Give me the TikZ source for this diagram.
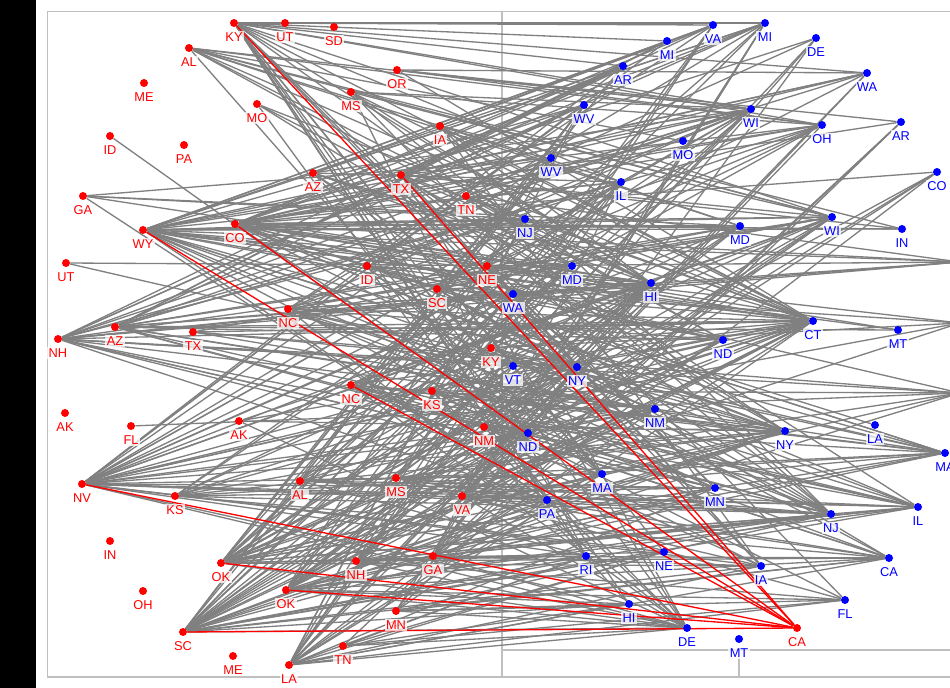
\documentclass[tikz,border=0pt]{standalone}
\usepackage{fontspec}
\setmainfont{Liberation Sans}
\usepackage{tikz}
\pgfdeclarelayer{edges}
\pgfsetlayers{edges,main}

\begin{document}
\begin{tikzpicture}[x=0.02cm, y=-0.02cm,
			dot/.style={circle, inner sep=0pt, minimum size=0.16cm},
			lab/.style={font=\fontsize{7.3}{8}\selectfont, fill=white, fill opacity=0.75, text opacity=1, inner sep=0.8pt},
			rdot/.style={dot, fill=red, label={[lab, text=red]below:#1}},
			bdot/.style={dot, fill=blue, label={[lab, text=blue]below:#1}},
			edge/.style={gray, line width=0.75pt},
			hot/.style={red, line width=0.75pt},
			frame/.style={black!25, line width=0.6pt},
			label distance=2pt
		]
		\useasboundingbox (0,0) rectangle (950,688);

		% left group
		\node[rdot=KY] (rKY) at (234,23) {};
		\node[rdot=UT] (rUT) at (285,23) {};
		\node[rdot=SD] (rSD) at (334,27) {};
		\node[rdot=AL] (rAL) at (189,48) {};
		\node[rdot=ME] (rME) at (144,83) {};
		\node[rdot=OR] (rOR) at (397,70) {};
		\node[rdot=MS] (rMS) at (351,92) {};
		\node[rdot=MO] (rMO) at (257,104) {};
		\node[rdot=IA] (rIA) at (440,126) {};
		\node[rdot=ID] (rID) at (110,136) {};
		\node[rdot=PA] (rPA) at (184,145) {};
		\node[rdot=AZ] (rAZ) at (313,173) {};
		\node[rdot=TX] (rTX) at (401,175) {};
		\node[rdot=TN] (rTN) at (466,196) {};
		\node[rdot=GA] (rGA) at (83,196) {};
		\node[rdot=WY] (rWY) at (143,230) {};
		\node[rdot=CO] (rCO) at (235,224) {};
		\node[rdot=UT] (rUTb) at (66,263) {};
		\node[rdot=ID] (rIDb) at (367,266) {};
		\node[rdot=NE] (rNE) at (487,266) {};
		\node[rdot=SC] (rSC) at (437,289) {};
		\node[rdot=NC] (rNC) at (288,309) {};
		\node[rdot=AZ] (rAZb) at (115,327) {};
		\node[rdot=TX] (rTXb) at (193,332) {};
		\node[rdot=NH] (rNH) at (58,339) {};
		\node[rdot=KY] (rKYb) at (491,348) {};
		\node[rdot=NC] (rNCb) at (351,385) {};
		\node[rdot=KS] (rKS) at (432,391) {};
		\node[rdot=AK] (rAK) at (65,413) {};
		\node[rdot=FL] (rFL) at (131,426) {};
		\node[rdot=AK] (rAKb) at (239,421) {};
		\node[rdot=NM] (rNM) at (484,427) {};
		\node[rdot=NV] (rNV) at (82,484) {};
		\node[rdot=KS] (rKSb) at (175,496) {};
		\node[rdot=AL] (rALb) at (300,481) {};
		\node[rdot=MS] (rMSb) at (396,478) {};
		\node[rdot=VA] (rVA) at (462,496) {};
		\node[rdot=IN] (rIN) at (110,541) {};
		\node[rdot=OK] (rOK) at (221,563) {};
		\node[rdot=NH] (rNHb) at (356,561) {};
		\node[rdot=GA] (rGAb) at (433,556) {};
		\node[rdot=OH] (rOH) at (143,591) {};
		\node[rdot=OK] (rOKb) at (286,590) {};
		\node[rdot=MN] (rMN) at (396,611) {};
		\node[rdot=SC] (rSCb) at (183,632) {};
		\node[rdot=TN] (rTNb) at (343,646) {};
		\node[rdot=ME] (rMEb) at (233,656) {};
		\node[rdot=LA] (rLA) at (289,665) {};
		\node[rdot=CA] (rCA) at (797,628) {};

		% right group
		\node[bdot=VA] (bVA) at (713,25) {};
		\node[bdot=MI] (bMI) at (765,23) {};
		\node[bdot=MI] (bMIb) at (667,41) {};
		\node[bdot=DE] (bDE) at (816,38) {};
		\node[bdot=AR] (bAR) at (623,66) {};
		\node[bdot=WA] (bWA) at (867,73) {};
		\node[bdot=WV] (bWV) at (584,105) {};
		\node[bdot=WI] (bWI) at (751,109) {};
		\node[bdot=OH] (bOH) at (822,125) {};
		\node[bdot=AR] (bARb) at (901,122) {};
		\node[bdot=MO] (bMO) at (683,141) {};
		\node[bdot=WV] (bWVb) at (551,158) {};
		\node[bdot=IL] (bIL) at (621,182) {};
		\node[bdot=CO] (bCO) at (937,172) {};
		\node[bdot=NJ] (bNJ) at (525,219) {};
		\node[bdot=MD] (bMD) at (740,226) {};
		\node[bdot=WI] (bWIb) at (832,217) {};
		\node[bdot=IN] (bIN) at (902,229) {};
		\node[bdot=MD] (bMDb) at (572,266) {};
		\node[bdot=HI] (bHI) at (651,283) {};
		\node[bdot=WA] (bWAb) at (513,294) {};
		\node[bdot=CT] (bCT) at (813,321) {};
		\node[bdot=MT] (bMT) at (898,330) {};
		\node[bdot=ND] (bND) at (723,340) {};
		\node[bdot=VT] (bVT) at (513,366) {};
		\node[bdot=NY] (bNY) at (577,367) {};
		\node[bdot=NM] (bNM) at (655,409) {};
		\node[bdot=NY] (bNYb) at (785,431) {};
		\node[bdot=LA] (bLA) at (875,425) {};
		\node[bdot=MA] (bMA) at (945,453) {};
		\node[bdot=ND] (bNDb) at (528,433) {};
		\node[bdot=MA] (bMAb) at (602,474) {};
		\node[bdot=MN] (bMN) at (715,488) {};
		\node[bdot=PA] (bPA) at (547,500) {};
		\node[bdot=NJ] (bNJb) at (831,514) {};
		\node[bdot=IL] (bILb) at (918,507) {};
		\node[bdot=RI] (bRI) at (586,556) {};
		\node[bdot=NE] (bNE) at (664,552) {};
		\node[bdot=IA] (bIA) at (761,566) {};
		\node[bdot=CA] (bCA) at (889,558) {};
		\node[bdot=FL] (bFL) at (845,600) {};
		\node[bdot=HI] (bHIb) at (629,604) {};
		\node[bdot=DE] (bDEb) at (687,628) {};
		\node[bdot=MT] (bMTb) at (739,639) {};
		\coordinate (o1) at (960,262);
		\coordinate (o2) at (960,323);
		\coordinate (o3) at (960,393);

		\begin{pgfonlayer}{edges}
			\fill[white] (0,0) rectangle (950,688);
			\fill[black] (0,0) rectangle (36,688);
			\draw[frame] (47.5,11.5) rectangle (990,677);
			\draw[frame] (502,11.5) -- (502,677);
			\draw[frame] (502,650) -- (990,650);
			\draw[frame] (739,650) -- (739,677);

			\foreach \t in {bVA,bMI,bMIb,bWA,bWI,bOH,bWIb,bAR,bIL,bHI,bCT,bNY,bMN,bMAb,bNE,bDEb,bPA,bMDb,bNDb,bRI,bHIb,bIA} \draw[edge] (rKY) -- (\t);
			\foreach \t in {bWI,bOH,bMO,bIL,bWIb,bMD,bCT,bHI,bND,bNDb,bIN} \draw[edge] (rAL) -- (\t);
			\foreach \t in {bMDb,bCT,bNYb,bPA} \draw[edge] (rMO) -- (\t);
			\foreach \t in {bWI,bOH,bWIb,bCT,bHI,bMDb,bRI,bFL} \draw[edge] (rMS) -- (\t);
			\foreach \t in {bWA,bWI,bOH,bARb,bCT} \draw[edge] (rOR) -- (\t);
			\foreach \t in {bMIb,bVA,bWIb,bMD,bCT,bHI,bNJb,bIA} \draw[edge] (rIA) -- (\t);
			\foreach \t in {bMI,bVA,bWI,bMDb,bHI,bCT,bNY,bMAb,bIL,bNJb} \draw[edge] (rAZ) -- (\t);
			\foreach \t in {bMI,bVA,bMIb,bWA,bOH,bWIb,bIN,bCT,bHI,bNYb,bMN,bNJb,bILb,bDEb,bIA} \draw[edge] (rTX) -- (\t);
			\foreach \t in {bWA,bWI,bDE,bCT,o1,bND,bNJb,bHI} \draw[edge] (rTN) -- (\t);
			\draw[edge] (rID) -- (bNDb);
			\foreach \t in {bWVb,bNJ,bMD,bHI,bPA} \draw[edge] (rGA) -- (\t);
			\foreach \t in {bMI,bVA,bMIb,bAR,bWV,bWI,bOH,bWA,bWVb,bIL,bNJ,bMD,bWIb,bIN,bMDb,bHI,bWAb,bCT,bMT,bND,bNY,bNM,bNYb,bMA,bNDb,bMN,bPA,bNJb,o1,o2} \draw[edge] (rWY) -- (\t);
			\foreach \t in {bMI,bVA,bDE,bAR,bWV,bWI,bARb,bOH,bWA,bMO,bIL,bCO,bNJ,bMD,bWIb,bIN,bMDb,bHI,bCT,bMT,bND,bVT,bNY,bNYb,bLA,bMA,bMAb,bILb,o1,o3} \draw[edge] (rCO) -- (\t);
			\foreach \t in {bMDb,bVT} \draw[edge] (rUTb) -- (\t);
			\foreach \t in {bWI,bIL,bHI,bCT,bND,bNYb,bMAb,bRI} \draw[edge] (rIDb) -- (\t);
			\foreach \t in {bMI,bWA,bOH,bHI,bCT,o1,bNYb,bMN,bIA,bDEb} \draw[edge] (rNE) -- (\t);
			\foreach \t in {bWV,bWI,bWIb,bHI,bCT,o2,bNY,bMA,bNJb,bCA} \draw[edge] (rSC) -- (\t);
			\foreach \t in {bVA,bMI,bWI,bOH,bMD,bWIb,bHI,bCT,bND,bNYb,bMA,bMN,bNJb,bILb,bDEb,o1} \draw[edge] (rNC) -- (\t);
			\foreach \t in {bMIb,bAR,bWV,bWI,bOH,bIL,bMD,bWIb,bHI,bCT,bMT,bND,bNYb,bMA,bMN,bNJb,bILb,o1} \draw[edge] (rAZb) -- (\t);
			\foreach \t in {bWIb,bCT,bNY,bNM,o3} \draw[edge] (rTXb) -- (\t);
			\foreach \t in {bMI,bAR,bWV,bWI,bWVb,bIL,bNJ,bMDb,bHI,bWAb,bCT,bVT,bNY,bNM,bNDb,bMAb,bPA,bMN,bNJb,o1,o3} \draw[edge] (rNH) -- (\t);
			\foreach \t in {bWIb,bCT,bNYb,o2,bMA,bILb,bNJb,bCA} \draw[edge] (rKYb) -- (\t);
			\foreach \t in {bOH,bWIb,bHI,bCT,bNM,bNYb,bMA,bILb,bNJb,bCA,bIA,bDEb} \draw[edge] (rNCb) -- (\t);
			\foreach \t in {bWIb,bCT,bNYb,o3,bMA,bILb,bCA,bFL,bDEb,bHIb} \draw[edge] (rKS) -- (\t);
			\draw[edge] (rFL) -- (o3);
			\foreach \t in {bHI,bCT,bNYb,bDEb} \draw[edge] (rAKb) -- (\t);
			\foreach \t in {bHI,bCT,bNYb,bMA,bILb,bCA,bDEb,bIA} \draw[edge] (rNM) -- (\t);
			\foreach \t in {bAR,bMIb,bWV,bWI,bOH,bWVb,bIL,bNJ,bMD,bWIb,bMDb,bHI,bWAb,bCT,bND,bVT,bNY,bNM,bNYb,bNDb,bMAb,bMN,bPA,bNJb,bILb,bRI,bNE,bIA,bHIb,bDEb,o2} \draw[edge] (rNV) -- (\t);
			\foreach \t in {bWI,bIL,bMD,bHI,bCT,bNY,bNM,bNYb,bMA,bMN,bNJb,bCA} \draw[edge] (rKSb) -- (\t);
			\foreach \t in {bWVb,bMDb,bHI,bCT,bNM,bMAb,bMN,bNJb,bILb,bRI,bMI} \draw[edge] (rALb) -- (\t);
			\foreach \t in {bHI,bCT,bNYb,o3,bMA,bNJb,bCA,bFL,bDE,bVA} \draw[edge] (rMSb) -- (\t);
			\foreach \t in {bOH,bHI,bCT,bNYb,bMA,bILb,bNJb,bCA,bIA,bDEb,bMI,bWA} \draw[edge] (rVA) -- (\t);
			\foreach \t in {bAR,bWV,bWI,bWVb,bIL,bNJ,bMD,bWIb,bMDb,bHI,bWAb,bCT,bND,bVT,bNY,bNM,bNYb,bMA,bNDb,bMAb,bMN,bPA,bNJb,bILb,bRI,bNE,bIA,bDEb,bCO,o2,o3} \draw[edge] (rOK) -- (\t);
			\foreach \t in {bWIb,bHI,bCT,bNYb,bMA,bILb,bNJb,bCA,bFL,bDEb,bDE,bVA} \draw[edge] (rNHb) -- (\t);
			\foreach \t in {bIL,bHI,bCT,bNY,bNYb,bILb,bNJb,bCA,bIA,bDEb,bMI,bARb} \draw[edge] (rGAb) -- (\t);
			\foreach \t in {bWV,bWI,bIL,bMD,bWIb,bHI,bCT,bND,bNY,bNM,bNYb,bMA,bMN,bNJb,bILb,bRI,bCA,bFL,bHIb,bDEb,bCO,bVA} \draw[edge] (rOKb) -- (\t);
			\foreach \t in {bCT,bNJb,bCA,bFL,bHIb,bDEb,bARb,bDE,bMI} \draw[edge] (rMN) -- (\t);
			\foreach \t in {bWV,bWI,bWVb,bIL,bNJ,bMD,bWIb,bMDb,bHI,bWAb,bCT,bND,bVT,bNY,bNM,bNYb,bNDb,bMAb,bMN,bPA,bNJb,bILb,bRI,bNE,bIA,bCA,bHIb,bDEb,bCO,o3} \draw[edge] (rSCb) -- (\t);
			\foreach \t in {bRI,bHIb,bDEb,bFL,bNE,bARb} \draw[edge] (rTNb) -- (\t);
			\foreach \t in {bWV,bIL,bNJ,bMDb,bHI,bWAb,bVT,bNY,bNM,bNDb,bMAb,bMN,bPA,bRI,bNE,bIA,bHIb,bDEb,bFL,bCA,bCO,bWA} \draw[edge] (rLA) -- (\t);

			% links into CA
			\foreach \s in {rKY,rTX,rCO,rWY,rNCb,rNV,rOK,rOKb,rSCb} \draw[hot] (\s) -- (rCA);
		\end{pgfonlayer}
	\end{tikzpicture}
\end{document}
